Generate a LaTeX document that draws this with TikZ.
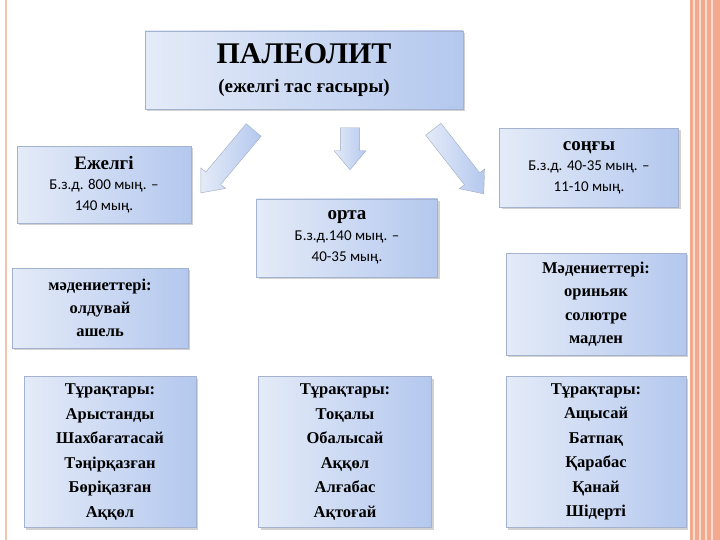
\documentclass[tikz,border=0pt]{standalone}
\usepackage{fontspec}
\setmainfont{Liberation Serif}
\newfontfamily\datefont{Carlito}
\usetikzlibrary{shadows,shapes.arrows}
\definecolor{bxl}{HTML}{E4EBF8}
\definecolor{bxr}{HTML}{B4C8EE}
\definecolor{sal}{HTML}{F2A98E}
\newcommand{\dsz}{\datefont\fontsize{15}{18}\selectfont\rule{0pt}{17pt}}
\newcommand{\hsz}{\bfseries\fontsize{19}{22}\selectfont}
\tikzset{
 box/.style={draw=bxr!70!gray, line width=0.6pt, left color=bxl, right color=bxr, drop shadow={opacity=0.35,shadow xshift=2pt,shadow yshift=-2pt}, align=center, inner sep=0pt},
 arr/.style={single arrow, draw=bxr!60!gray, left color=bxl, right color=bxr, minimum width=32pt, single arrow head extend=6pt, single arrow tip angle=80, inner sep=9pt},
 bt/.style={font=\bfseries\fontsize{16.5}{24.5}\selectfont}
}
\begin{document}
\begin{tikzpicture}[x=1pt,y=-1pt]
\useasboundingbox (0,0) rectangle (720,540);
\fill[white] (0,0) rectangle (720,540);
\draw[sal!70, line width=1.5pt] (6,0) -- (6,540);
\fill[sal] (690,0) rectangle (720,540);
\foreach \x in {694,700,706,712} \draw[white!60!sal, line width=1.2pt] (\x,0) -- (\x,540);
\node[box, minimum width=318pt, minimum height=78pt] (top) at (304,70) {\begin{tabular}{c}{\bfseries\fontsize{30}{32}\selectfont ПАЛЕОЛИТ}\\{\bfseries\fontsize{19}{22}\selectfont\rule{0pt}{25pt}(ежелгі тас ғасыры)}\end{tabular}};
\node[box, minimum width=174pt, minimum height=77pt] (ej) at (104,185) {\begin{tabular}{c}\hsz Ежелгі\\\dsz Б.з.д. 800 мың. –\\\dsz 140 мың.\end{tabular}};
\node[box, minimum width=181pt, minimum height=78pt] (or) at (347,238) {\begin{tabular}{c}\hsz орта\\\dsz Б.з.д.140 мың. –\\\dsz 40-35 мың.\end{tabular}};
\node[box, minimum width=179pt, minimum height=79pt] (so) at (589,168) {\begin{tabular}{c}\hsz соңғы\\\dsz Б.з.д. 40-35 мың. –\\\dsz 11-10 мың.\end{tabular}};
\node[box, minimum width=176pt, minimum height=80pt, font=\bfseries\fontsize{16.5}{23}\selectfont] (m1) at (100,308) {мәдениеттері:\\олдувай\\ашель};
\node[box, minimum width=180pt, minimum height=102pt, font=\bfseries\fontsize{16.5}{23.5}\selectfont] (m3) at (596,304) {Мәдениеттері:\\ориньяк\\солютре\\мадлен};
\node[box, minimum width=172pt, minimum height=151pt, bt] (t1) at (110,452) {Тұрақтары:\\Арыстанды\\Шахбағатасай\\Тәңірқазған\\Бөріқазған\\Аққөл};
\node[box, minimum width=173pt, minimum height=151pt, bt] (t2) at (345,452) {Тұрақтары:\\Тоқалы\\Обалысай\\Аққөл\\Алғабас\\Ақтоғай};
\node[box, minimum width=180pt, minimum height=151pt, bt] (t3) at (596,452) {Тұрақтары:\\Ащысай\\Батпақ\\Қарабас\\Қанай\\Шідерті};
\node[arr, minimum height=82pt, rotate=-130] (a1) at (231,157) {};
\node[arr, minimum height=42pt, rotate=-90] (a2) at (350,143) {};
\node[arr, minimum height=82pt, rotate=-52] (a3) at (455,157) {};
\end{tikzpicture}
\end{document}
